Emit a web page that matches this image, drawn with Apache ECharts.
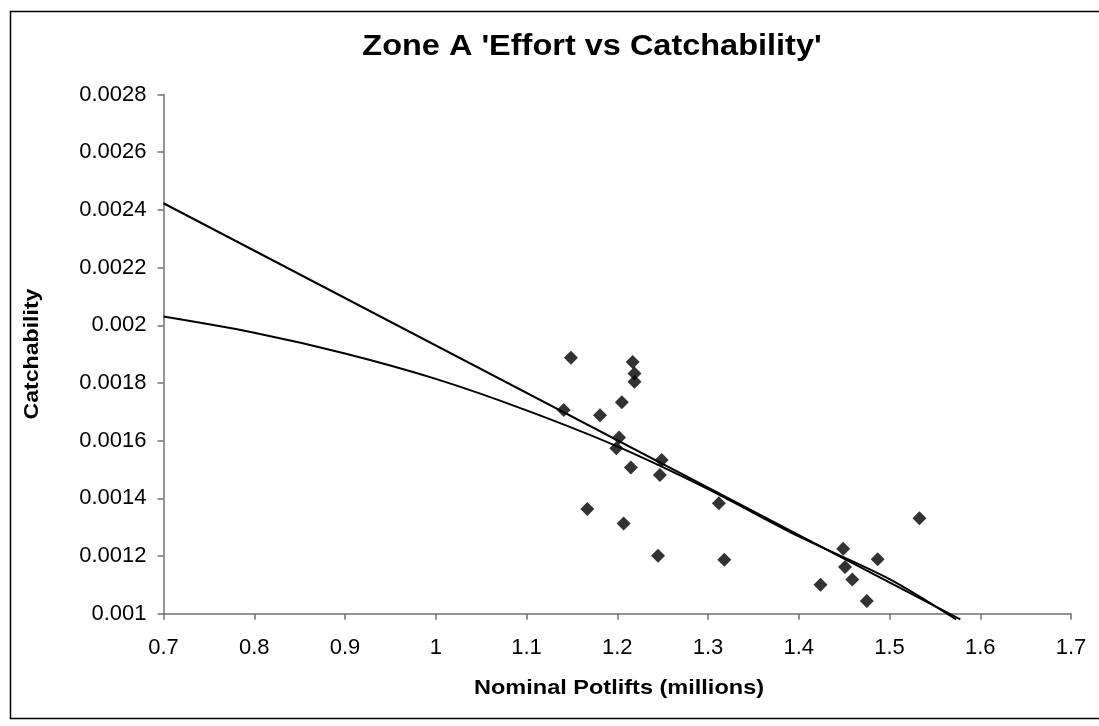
<!DOCTYPE html>
<html>
<head>
<meta charset="utf-8">
<script src="https://cdn.jsdelivr.net/npm/echarts@6/dist/echarts.min.js"></script>
<style>
  html, body { margin: 0; padding: 0; background: #fff; }
  #chart { width: 1099px; height: 726px; }
</style>
</head>
<body>
<div id="chart"></div>
<script>
// observed points (potlifts in millions, catchability)
var effort = [1.149, 1.217, 1.219, 1.219, 1.205, 1.141, 1.181, 1.202, 1.199, 1.249, 1.215, 1.247,
              1.312, 1.167, 1.207, 1.245, 1.318, 1.424, 1.533, 1.449, 1.487, 1.451, 1.459, 1.475];
var catchability = [0.001887, 0.001873, 0.001833, 0.001804, 0.001733, 0.001706, 0.001688, 0.001611,
                    0.001574, 0.001533, 0.001507, 0.001481, 0.001383, 0.001363, 0.001313, 0.001201,
                    0.001187, 0.001100, 0.001331, 0.001225, 0.001189, 0.001162, 0.001119, 0.001044];

// trend lines
var linearX = [0.7, 1.578];
var linearY = [0.002423, 0.00098];
var polyX = [0.7, 0.8, 0.9, 1.0, 1.1, 1.2, 1.3, 1.4, 1.5, 1.5735];
var polyY = [0.00203, 0.001974, 0.001902, 0.001814, 0.001705, 0.00158, 0.001432, 0.001268, 0.00112, 0.00098];

var font = 'Liberation Sans, Arial, sans-serif';

function pairs(xs, ys) {
  var out = [];
  for (var i = 0; i < xs.length; i++) out.push([xs[i], ys[i]]);
  return out;
}

var chart = echarts.init(document.getElementById('chart'));
var option = {
  animation: false,
  backgroundColor: '#fff',
  graphic: [
    {
      type: 'rect',
      shape: { x: 10.5, y: 11.5, width: 1200, height: 707 },
      style: { fill: 'none', stroke: '#000', lineWidth: 1.5 },
      silent: true
    },
    {
      type: 'text',
      x: 592, y: 47,
      scaleX: 1.12,
      style: {
        text: "Zone A 'Effort vs Catchability'",
        font: 'bold 29px ' + font,
        fill: '#000',
        textAlign: 'center',
        textVerticalAlign: 'middle'
      }
    },
    {
      // x axis title
      type: 'text',
      x: 619, y: 688,
      scaleX: 1.12,
      style: {
        text: 'Nominal Potlifts (millions)',
        font: 'bold 21px ' + font,
        fill: '#000',
        textAlign: 'center',
        textVerticalAlign: 'middle'
      }
    },
    {
      // y axis title
      type: 'text',
      x: 32, y: 354,
      rotation: Math.PI / 2,
      scaleX: 1.1,
      style: {
        text: 'Catchability',
        font: 'bold 21px ' + font,
        fill: '#000',
        textAlign: 'center',
        textVerticalAlign: 'middle'
      }
    }
  ],
  grid: { left: 163.5, top: 94.5, right: 28, bottom: 112.3 },
  xAxis: {
    type: 'value',
    min: 0.7, max: 1.7, interval: 0.1,
    axisLine: { onZero: false, lineStyle: { color: '#707070', width: 1.5 } },
    axisTick: { show: true, length: 6, lineStyle: { color: '#707070', width: 1.5 } },
    axisLabel: {
      margin: 23, fontFamily: font, fontSize: 22, color: '#000',
      formatter: function (v) { return String(+v.toFixed(1)); }
    },
    splitLine: { show: false }
  },
  yAxis: {
    type: 'value',
    min: 0.001, max: 0.0028, interval: 0.0002,
    axisLine: { show: true, onZero: false, lineStyle: { color: '#707070', width: 1.5 } },
    axisTick: { show: true, length: 6, lineStyle: { color: '#707070', width: 1.5 } },
    axisLabel: {
      margin: 17, fontFamily: font, fontSize: 22, color: '#000',
      formatter: function (v) { return String(+v.toFixed(4)); }
    },
    splitLine: { show: false }
  },
  series: [
    {
      name: 'Linear trend',
      type: 'line',
      data: pairs(linearX, linearY),
      showSymbol: false,
      clip: false,
      lineStyle: { color: '#000', width: 2 }
    },
    {
      name: 'Polynomial trend',
      type: 'line',
      data: pairs(polyX, polyY),
      smooth: 0.3,
      showSymbol: false,
      clip: false,
      lineStyle: { color: '#000', width: 2 }
    },
    {
      name: 'Catchability',
      type: 'scatter',
      data: pairs(effort, catchability),
      symbol: 'diamond',
      symbolSize: 14,
      itemStyle: { color: '#000' },
      z: 5
    }
  ]
};
chart.setOption(option);
window.onresize = chart.resize;
</script>
</body>
</html>
